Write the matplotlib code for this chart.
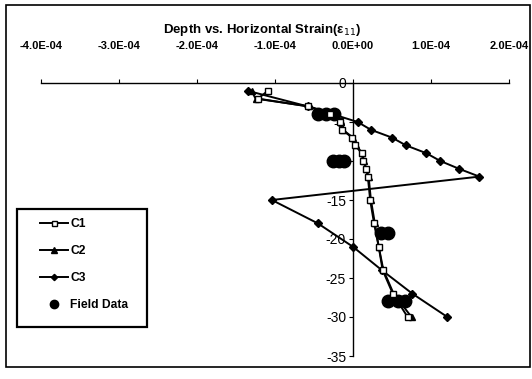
import matplotlib
matplotlib.use("Agg")
import matplotlib.pyplot as plt
from matplotlib.patches import Rectangle

plt.rcParams['font.family'] = ['Liberation Sans', 'DejaVu Sans']

depth = [-1, -2, -3, -4, -5, -6, -7, -8, -9, -10, -11, -12, -15, -18, -21, -24, -27, -30]
c1 = [-1.09e-4, -1.22e-4, -0.58e-4, -0.30e-4, -0.17e-4, -0.14e-4, -0.01e-4, 0.03e-4, 0.11e-4,
      0.13e-4, 0.17e-4, 0.19e-4, 0.22e-4, 0.27e-4, 0.33e-4, 0.38e-4, 0.51e-4, 0.70e-4]
c2 = [-1.30e-4, -1.25e-4, -0.56e-4, -0.26e-4, -0.16e-4, -0.13e-4, 0.00e-4, 0.04e-4, 0.12e-4,
      0.14e-4, 0.17e-4, 0.20e-4, 0.23e-4, 0.28e-4, 0.33e-4, 0.39e-4, 0.52e-4, 0.75e-4]
c3_depth = [-1, -3, -5, -6, -7, -8, -9, -10, -11, -12, -15, -18, -21, -24, -27, -30]
c3 = [-1.35e-4, -0.58e-4, 0.06e-4, 0.23e-4, 0.50e-4, 0.68e-4, 0.94e-4, 1.12e-4, 1.36e-4, 1.62e-4,
      -1.04e-4, -0.45e-4, 0.00e-4, 0.37e-4, 0.76e-4, 1.21e-4]
field_x = [-0.45e-4, -0.35e-4, -0.25e-4, -0.26e-4, -0.18e-4, -0.11e-4, 0.36e-4, 0.45e-4,
           0.45e-4, 0.58e-4, 0.67e-4]
field_depth = [-4, -4, -4, -10, -10, -10, -19.2, -19.2, -28, -28, -28]

xticks = [-4e-4, -3e-4, -2e-4, -1e-4, 0, 1e-4, 2e-4]
yticks = [0, -5, -10, -15, -20, -25, -30, -35]

W, H = 532, 379
fig = plt.figure(figsize=(W / 100, H / 100), dpi=100)
ax = fig.add_axes([41 / W, 1 - 356 / H, (509 - 41) / W, (356 - 83) / H])
ax.patch.set_alpha(0)

ax.plot(c1, depth, '-', color='black', lw=1.4, marker='s', ms=4.5, mfc='white', mec='black', mew=1, label='C1', zorder=4)
ax.plot(c2, depth, '-', color='black', lw=1.4, marker='^', ms=5, mfc='black', mec='black', label='C2', zorder=3)
ax.plot(c3, c3_depth, '-', color='black', lw=1.4, marker='D', ms=4, mfc='black', mec='black', label='C3', zorder=3)
ax.plot(field_x, field_depth, 'o', color='black', ms=9, ls='none', label='Field Data', zorder=2)

ax.set_xlim(-4e-4, 2e-4)
ax.set_ylim(-35, 0)
ax.xaxis.tick_top()
ax.set_xticks(xticks)
ax.set_xticklabels([f"{v:.1E}" for v in xticks], fontsize=8, fontweight='bold')
ax.set_yticks(yticks)
ax.set_yticklabels([str(v) for v in yticks], fontsize=8.5, fontweight='bold')
ax.spines['left'].set_position(('data', 0))
ax.spines['bottom'].set_visible(False)
ax.spines['right'].set_visible(False)
ax.spines['top'].set_linewidth(1.0)
ax.spines['left'].set_linewidth(1.0)
ax.tick_params(axis='x', direction='out', length=3, pad=20, top=True, bottom=False)
ax.tick_params(axis='y', direction='out', length=3, pad=2)

fig.text(262 / W, 1 - 30 / H, 'Depth vs. Horizontal Strain(ε$_{11}$)', ha='center', va='center',
         fontsize=9.5, fontweight='bold')

fig.patches.append(Rectangle((6 / W, 1 - 367 / H), (530 - 6) / W, (367 - 5) / H,
                             transform=fig.transFigure, fill=False, edgecolor='black', lw=1.2))
fig.patches.append(Rectangle((17 / W, 1 - 327 / H), (147 - 17) / W, (327 - 209) / H,
                             transform=fig.transFigure, fill=False, edgecolor='black', lw=1.6))

leg = fig.legend(loc='upper left', bbox_to_anchor=(40 / W, 1 - 218 / H), borderaxespad=0,
                 borderpad=0, frameon=False, handlelength=2.3,
                 labelspacing=1.25, handletextpad=0.2, markerscale=0.8,
                 prop={'weight': 'bold', 'size': 8.7})
leg.legend_handles[3].set_markersize(6)

fig.savefig('out.png', dpi=100)
